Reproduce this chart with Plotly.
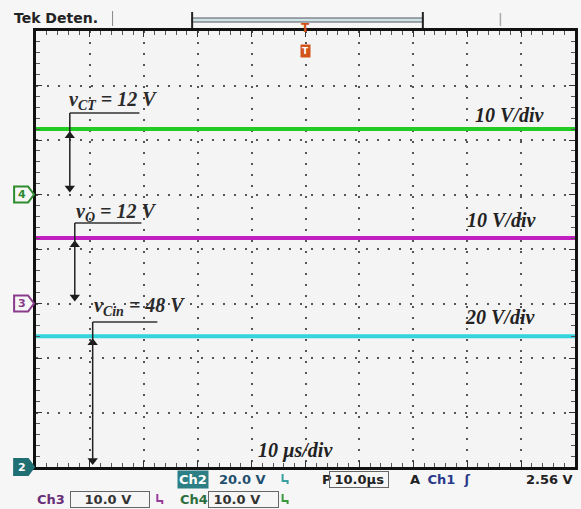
import plotly.graph_objects as go

# ---- data ----
time_us = [0, 10, 20, 30, 40, 50, 60, 70, 80, 90, 100]
channels = ["v_CT", "v_O", "v_Cin"]
volts = {"v_CT": [12] * 11, "v_O": [12] * 11, "v_Cin": [48] * 11}
volts_per_div = {"v_CT": 10, "v_O": 10, "v_Cin": 20}
ground_div = {"v_CT": 5, "v_O": 3, "v_Cin": 0}
ground_tags = {"v_CT": "4", "v_O": "3", "v_Cin": "2"}
colors = {"v_CT": "#22cc22", "v_O": "#c21ec2", "v_Cin": "#33d4dc"}
tag_colors = {"v_CT": "#2e8b2e", "v_O": "#8a3a8a", "v_Cin": "#1f6f73"}
labels = {"v_CT": "<b><i>v<sub>CT</sub> = 12 V</i></b>",
          "v_O": "<b><i>v<sub>O</sub> = 12 V</i></b>",
          "v_Cin": "<b><i>v<sub>Cin</sub> = 48 V</i></b>"}
scale_labels = {"v_CT": "<i>10 V/div</i>", "v_O": "<i>10 V/div</i>", "v_Cin": "<i>20 V/div</i>"}

W, H = 581, 509
L, R, T, B = 36, 3, 31, 42
PW, PH = W - L - R, H - T - B


def X(px):
    return (px - L) / PW


def Y(py):
    return (H - B - py) / PH


def tx(px):
    return (px - L) / PW * 100


def dv(py):
    return (H - B - py) / PH * 8


fig = go.Figure()
for ch in channels:
    y = [ground_div[ch] + v / volts_per_div[ch] for v in volts[ch]]
    fig.add_trace(go.Scatter(x=time_us, y=y, mode="lines",
                             line=dict(color=colors[ch], width=4), showlegend=False,
                             hoverinfo="skip"))

serif = "Liberation Serif"
sans = "DejaVu Sans"
ann = []
shapes = []

arrow_x = {"v_CT": 70, "v_O": 75, "v_Cin": 93}
lead_y = {"v_CT": 113, "v_O": 223, "v_Cin": 322}
lead_x2 = {"v_CT": 140, "v_O": 142, "v_Cin": 158}
lab_pos = {"v_CT": (67, 100), "v_O": (74, 212), "v_Cin": (92, 306)}
scale_pos = {"v_CT": (549, 115), "v_O": (541, 220), "v_Cin": (540, 317)}
for ch in channels:
    ax = tx(arrow_x[ch])
    trace_y = ground_div[ch] + volts[ch][0] / volts_per_div[ch]
    g = ground_div[ch]
    shapes.append(dict(type="line", xref="x", yref="y", x0=ax, x1=tx(lead_x2[ch]),
                       y0=dv(lead_y[ch]), y1=dv(lead_y[ch]), line=dict(color="#333", width=1.5)))
    shapes.append(dict(type="line", xref="x", yref="y", x0=ax, x1=ax,
                       y0=dv(lead_y[ch]), y1=g + 0.1, line=dict(color="#222", width=1.5)))
    fig.add_trace(go.Scatter(x=[ax, ax], y=[trace_y - 0.12, g + 0.12], mode="markers",
                             marker=dict(symbol=["triangle-up", "triangle-down"], size=9,
                                         color="#1a1a1a"),
                             showlegend=False, hoverinfo="skip"))
    lx, ly = lab_pos[ch]
    ann.append(dict(x=X(lx), y=Y(ly), xref="paper", yref="paper", xanchor="left", yanchor="middle",
                    text=labels[ch], showarrow=False, font=dict(family=serif, size=20, color="#2a2a2a")))
    sx, sy = scale_pos[ch]
    ann.append(dict(x=X(sx), y=Y(sy), xref="paper", yref="paper", xanchor="right", yanchor="middle",
                    text="<b>%s</b>" % scale_labels[ch], showarrow=False,
                    font=dict(family=serif, size=20, color="#222")))

    # ground marker tag (pentagon pointing right) at the channel's ground level
    filled = ch == "v_Cin"
    bc = tag_colors[ch]
    py = H - B - g / 8 * PH
    x0, x1, x2 = 14, 28, 34
    path = "M %f %f L %f %f L %f %f L %f %f L %f %f Z" % (
        X(x0), Y(py - 8), X(x1), Y(py - 8), X(x2), Y(py), X(x1), Y(py + 8), X(x0), Y(py + 8))
    shapes.append(dict(type="path", xref="paper", yref="paper", path=path,
                       fillcolor=bc if filled else "rgba(0,0,0,0)", line=dict(color=bc, width=2)))
    ann.append(dict(x=X(22), y=Y(py), xref="paper", yref="paper", xanchor="center",
                    yanchor="middle", text="<b>%s</b>" % ground_tags[ch], showarrow=False,
                    font=dict(family=sans, size=11, color="white" if filled else bc)))

ann.append(dict(x=X(257), y=Y(450), xref="paper", yref="paper", xanchor="left", yanchor="middle",
                text="<b><i>10 µs/div</i></b>", showarrow=False,
                font=dict(family=serif, size=20, color="#222")))

# top header
ann.append(dict(x=X(12), y=Y(18), xref="paper", yref="paper", xanchor="left", yanchor="middle",
                text="<b>Tek Deten.</b>", showarrow=False, font=dict(family=sans, size=14, color="#222")))
shapes.append(dict(type="line", xref="paper", yref="paper", x0=X(113), x1=X(113), y0=Y(11), y1=Y(26),
                   line=dict(color="#888", width=1)))
shapes.append(dict(type="rect", xref="paper", yref="paper", x0=X(193), x1=X(425), y0=Y(18), y1=Y(22),
                   fillcolor="#cfe4e4", line=dict(color="#556", width=1)))
shapes.append(dict(type="line", xref="paper", yref="paper", x0=X(193), x1=X(193), y0=Y(12), y1=Y(28),
                   line=dict(color="#222", width=2)))
shapes.append(dict(type="line", xref="paper", yref="paper", x0=X(425), x1=X(425), y0=Y(12), y1=Y(28),
                   line=dict(color="#222", width=2)))
shapes.append(dict(type="line", xref="paper", yref="paper", x0=X(503), x1=X(503), y0=Y(13), y1=Y(26),
                   line=dict(color="#aaa", width=1.5)))
ann.append(dict(x=X(307), y=Y(19), xref="paper", yref="paper", text="<b>T</b>", showarrow=False,
                font=dict(family=sans, size=12, color="#d2541a")))
ann.append(dict(x=X(307), y=Y(44), xref="paper", yref="paper", text="<b>T</b>", showarrow=False,
                bgcolor="#d2541a", borderpad=1, font=dict(family=sans, size=9, color="white")))


def status(px, py, text, color, anchor="left", box=None, bg=None, size=13):
    d = dict(x=X(px), y=Y(py), xref="paper", yref="paper", xanchor=anchor, yanchor="middle",
             text="<b>%s</b>" % text, showarrow=False, font=dict(family=sans, size=size, color=color))
    if box:
        d.update(bordercolor=box, borderwidth=1, borderpad=0)
    if bg:
        d.update(bgcolor=bg)
    ann.append(d)


def icon(px, py, color):
    path = "M %f %f L %f %f L %f %f L %f %f" % (X(px), Y(py - 5), X(px), Y(py + 2),
                                                X(px + 5), Y(py + 2), X(px + 5), Y(py + 5))
    shapes.append(dict(type="path", xref="paper", yref="paper", path=path,
                       line=dict(color=color, width=2)))


status(178, 479, "Ch2", "white", bg="#2d7f86")
status(218, 479, "20.0 V", "#1f4f6f")
icon(284, 479, "#3aa0a0")
status(322, 479, "P", "#222")
status(331, 479, " 10.0µs ", "#222", box="#666")
status(410, 479, "A", "#222")
status(423, 479, " Ch1  ʃ ", "#2a3a8a")
status(578, 479, "2.56 V", "#222", anchor="right")
status(35, 499, "Ch3", "#6a2f78")
status(70, 499, "   10.0 V    ", "#333", box="#666")
icon(158, 499, "#9a3a9a")
status(179, 499, "Ch4", "#2f6f3f")
status(209, 499, " 10.0 V    ", "#333", box="#666")
icon(284, 499, "#3a9a3a")

axis_common = dict(showgrid=True, gridcolor="#555", gridwidth=2, griddash="2px,9px",
                   zeroline=False, showline=True, linecolor="#111", linewidth=3, mirror="ticks",
                   ticks="inside", ticklen=6, tickcolor="#333", showticklabels=False,
                   fixedrange=True)
fig.update_xaxes(range=[0, 100], dtick=10, minor=dict(dtick=2, ticks="inside", ticklen=4,
                 tickcolor="#555", showgrid=False), **axis_common)
fig.update_yaxes(range=[0, 8], dtick=1, minor=dict(dtick=0.2, ticks="inside", ticklen=4,
                 tickcolor="#555", showgrid=False), **axis_common)

fig.update_layout(width=W, height=H, margin=dict(l=L, r=R, t=T, b=B),
                  paper_bgcolor="#f6f6f6", plot_bgcolor="#f4f4f4",
                  annotations=ann, shapes=shapes, showlegend=False)
fig.write_html("out.html", config={"displayModeBar": False})
